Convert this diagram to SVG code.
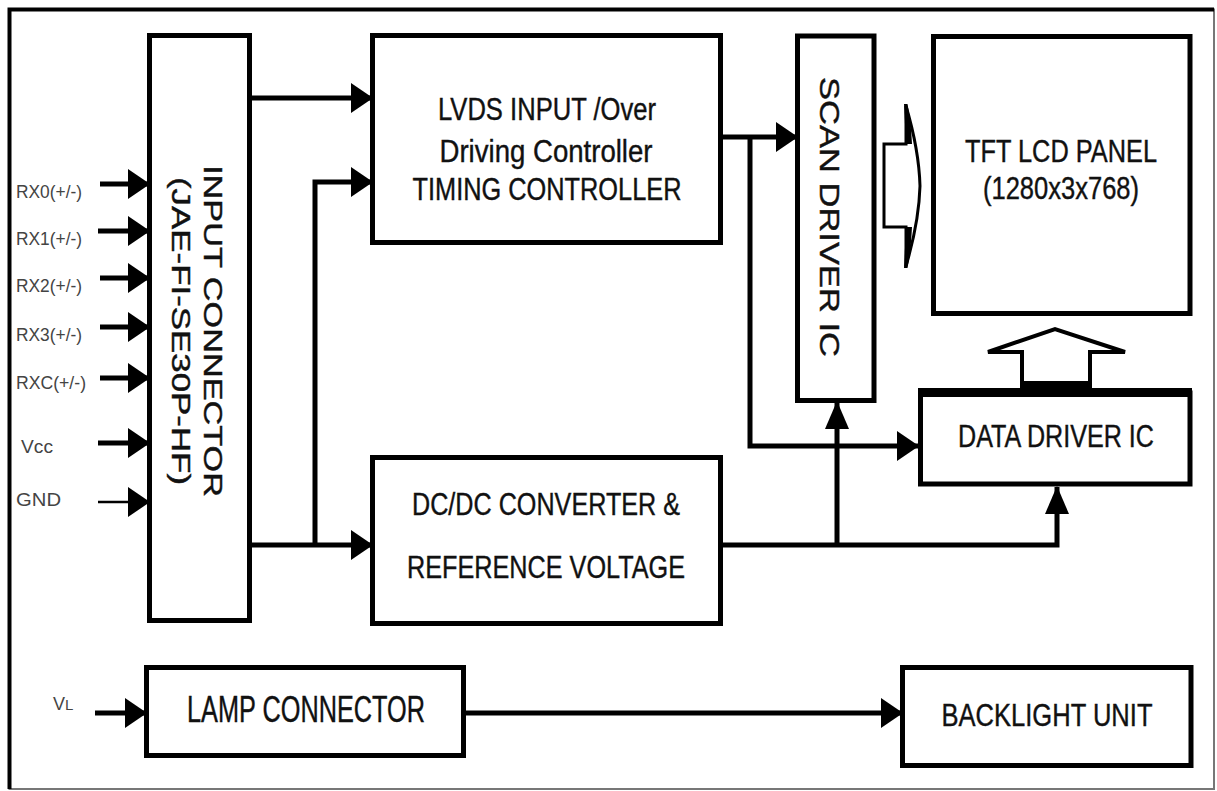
<svg xmlns="http://www.w3.org/2000/svg" width="1217" height="791" viewBox="0 0 1217 791">
<style>
.box{fill:#fff;stroke:#000;stroke-width:5}
.ln{fill:none;stroke:#000;stroke-width:5}
.t{font-family:"Liberation Sans",Arial,sans-serif;fill:#111;stroke:#111;stroke-width:0.4;text-anchor:middle}
.lb{font-family:"Liberation Sans",Arial,sans-serif;fill:#444;font-size:18px}
</style>
<defs>
<marker id="ah" viewBox="0 0 22 30" refX="21" refY="15" markerWidth="22" markerHeight="30" markerUnits="userSpaceOnUse" orient="auto">
<path d="M0,0 L22,15 L0,30 Z" fill="#000"/>
</marker>
<marker id="av" viewBox="0 0 28 24" refX="27" refY="12" markerWidth="28" markerHeight="24" markerUnits="userSpaceOnUse" orient="auto">
<path d="M0,0 L28,12 L0,24 Z" fill="#000"/>
</marker>
</defs>
<rect width="1217" height="791" fill="#fff"/>
<g id="frame">
<path d="M1214,789 L9.5,789 L9.5,9.5 L1214,9.5 Z" fill="none" stroke="#777" stroke-width="2"/>
<path d="M9.5,789 L9.5,9.5 L1214,9.5" fill="none" stroke="#000" stroke-width="4"/>
</g>
<g id="input-connector">
<rect class="box" x="149.5" y="35.5" width="100" height="585"/>
<text class="t" font-size="26" transform="translate(204,331) rotate(90)" textLength="332" lengthAdjust="spacingAndGlyphs">INPUT CONNECTOR</text>
<text class="t" font-size="25" transform="translate(172,331) rotate(90)" textLength="308" lengthAdjust="spacingAndGlyphs">(JAE-FI-SE30P-HF)</text>
</g>
<g id="lvds">
<rect class="box" x="372.5" y="35.5" width="348" height="207"/>
<text class="t" font-size="31" x="547" y="120" textLength="218" lengthAdjust="spacingAndGlyphs">LVDS INPUT /Over</text>
<text class="t" font-size="31" x="546" y="162" textLength="213" lengthAdjust="spacingAndGlyphs">Driving Controller</text>
<text class="t" font-size="31" x="547" y="200" textLength="269" lengthAdjust="spacingAndGlyphs">TIMING CONTROLLER</text>
</g>
<g id="dcdc">
<rect class="box" x="372.5" y="457.5" width="348" height="166"/>
<text class="t" font-size="31" x="546" y="515" textLength="268" lengthAdjust="spacingAndGlyphs">DC/DC CONVERTER &amp;</text>
<text class="t" font-size="31" x="546" y="578" textLength="278" lengthAdjust="spacingAndGlyphs">REFERENCE VOLTAGE</text>
</g>
<g id="scan-driver">
<rect class="box" x="797.5" y="36" width="76.5" height="364.5"/>
<text class="t" font-size="28" transform="translate(820,217) rotate(90)" textLength="280" lengthAdjust="spacingAndGlyphs">SCAN DRIVER IC</text>
</g>
<g id="tft-panel">
<rect class="box" x="933.5" y="36.5" width="256.5" height="277"/>
<text class="t" font-size="31" x="1061" y="162" textLength="192" lengthAdjust="spacingAndGlyphs">TFT LCD PANEL</text>
<text class="t" font-size="31" x="1061" y="199" textLength="156" lengthAdjust="spacingAndGlyphs">(1280x3x768)</text>
</g>
<g id="data-driver">
<rect class="box" x="920.5" y="393" width="269.5" height="91"/>
<rect x="918" y="388" width="274" height="9" fill="#000"/>
<text class="t" font-size="31" x="1056" y="447" textLength="196" lengthAdjust="spacingAndGlyphs">DATA DRIVER IC</text>
</g>
<g id="lamp-connector">
<rect class="box" x="146.5" y="667.5" width="317" height="88"/>
<text class="t" font-size="37" x="306" y="722" textLength="238" lengthAdjust="spacingAndGlyphs">LAMP CONNECTOR</text>
</g>
<g id="backlight">
<rect class="box" x="902.5" y="667.5" width="288.5" height="98"/>
<text class="t" font-size="32" x="1047" y="726" textLength="211" lengthAdjust="spacingAndGlyphs">BACKLIGHT UNIT</text>
</g>
<g id="panel-arrows">
<path d="M884,144 L906,144 L906,106 Q919,150 920,186 Q919,222 906,266 L906,227 L884,227 Z" fill="#fff" stroke="#000" stroke-width="3"/>
<path d="M904,104 L907.5,104 Q911,122 912,144 L906,144 Z" fill="#000"/>
<path d="M904,268 L907.5,268 Q911,250 912,227 L906,227 Z" fill="#000"/>
<path d="M1022,383 L1022,352 L988,352 L1055,329 L1125,352 L1090,352 L1090,383" fill="#fff" stroke="#000" stroke-width="4"/>
<rect x="1020" y="381" width="72" height="10" fill="#000"/>
</g>
<g id="connectors">
<line class="ln" x1="250" y1="98" x2="372" y2="98" marker-end="url(#ah)"/>
<line class="ln" x1="250" y1="545" x2="372" y2="545" marker-end="url(#ah)"/>
<polyline class="ln" points="315,545 315,182 372,182" marker-end="url(#ah)"/>
<line class="ln" x1="722" y1="137" x2="797" y2="137" marker-end="url(#ah)"/>
<polyline class="ln" points="750,137 750,446 918,446" marker-end="url(#ah)"/>
<polyline class="ln" points="722,545 1057,545 1057,487" marker-end="url(#av)"/>
<line class="ln" x1="837" y1="545" x2="837" y2="402" marker-end="url(#av)"/>
<line class="ln" x1="465" y1="713" x2="902" y2="713" marker-end="url(#ah)"/>
<line class="ln" x1="95" y1="713" x2="146" y2="713" marker-end="url(#ah)"/>
<line class="ln" x1="100" y1="184" x2="149" y2="184" marker-end="url(#ah)"/>
<line class="ln" x1="98" y1="231" x2="149" y2="231" marker-end="url(#ah)"/>
<line class="ln" x1="100" y1="278" x2="149" y2="278" marker-end="url(#ah)"/>
<line class="ln" x1="100" y1="327" x2="149" y2="327" marker-end="url(#ah)"/>
<line class="ln" x1="100" y1="378" x2="149" y2="378" marker-end="url(#ah)"/>
<line class="ln" x1="98" y1="443" x2="149" y2="443" marker-end="url(#ah)"/>
<line x1="98" y1="502" x2="149" y2="502" stroke="#000" stroke-width="2.5" marker-end="url(#ah)"/>
</g>
<g id="labels">
<text class="lb" x="16" y="198" textLength="66" lengthAdjust="spacingAndGlyphs">RX0(+/-)</text>
<text class="lb" x="16" y="245" textLength="66" lengthAdjust="spacingAndGlyphs">RX1(+/-)</text>
<text class="lb" x="16" y="292" textLength="66" lengthAdjust="spacingAndGlyphs">RX2(+/-)</text>
<text class="lb" x="16" y="341" textLength="66" lengthAdjust="spacingAndGlyphs">RX3(+/-)</text>
<text class="lb" x="16" y="389" textLength="70" lengthAdjust="spacingAndGlyphs">RXC(+/-)</text>
<text class="lb" x="21" y="453" textLength="32" lengthAdjust="spacingAndGlyphs">Vcc</text>
<text class="lb" x="16" y="506" textLength="45" lengthAdjust="spacingAndGlyphs">GND</text>
<text class="lb" x="53" y="710" font-size="20">V<tspan font-size="15">L</tspan></text>
</g>
</svg>
